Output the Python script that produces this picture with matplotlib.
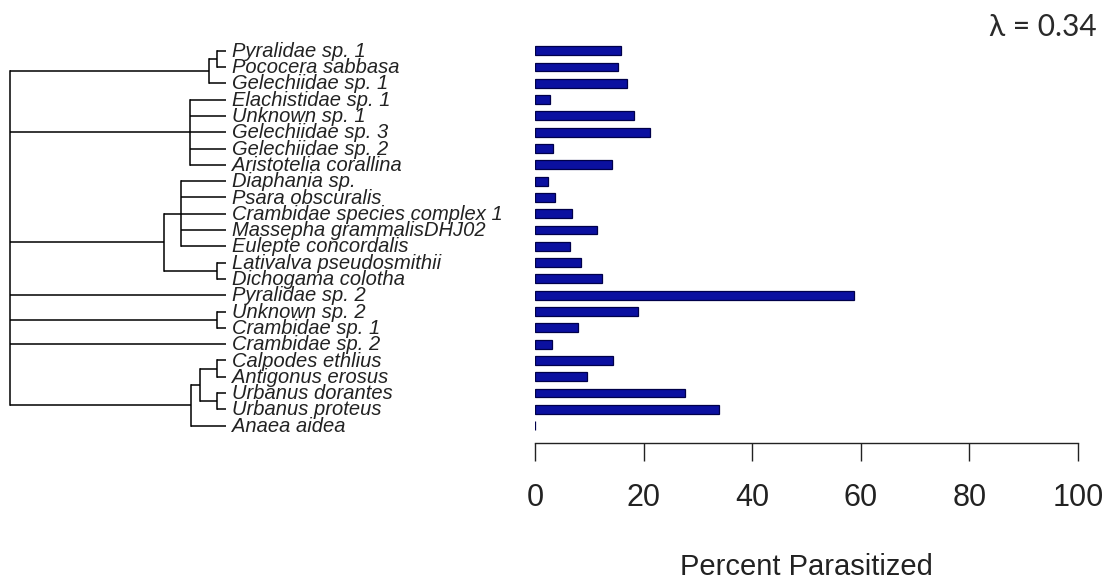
import matplotlib
matplotlib.use('Agg')
import matplotlib.pyplot as plt

# ---------------- data ----------------
tips = [
    "Pyralidae sp. 1", "Pococera sabbasa", "Gelechiidae sp. 1",
    "Elachistidae sp. 1", "Unknown sp. 1", "Gelechiidae sp. 3",
    "Gelechiidae sp. 2", "Aristotelia corallina", "Diaphania sp.",
    "Psara obscuralis", "Crambidae species complex 1",
    "Massepha grammalisDHJ02", "Eulepte concordalis",
    "Lativalva pseudosmithii", "Dichogama colotha", "Pyralidae sp. 2",
    "Unknown sp. 2", "Crambidae sp. 1", "Crambidae sp. 2",
    "Calpodes ethlius", "Antigonus erosus", "Urbanus dorantes",
    "Urbanus proteus", "Anaea aidea",
]
percent_parasitized = [
    15.8, 15.2, 16.9, 2.7, 18.3, 21.1, 3.4, 14.1, 2.4, 3.7, 6.9, 11.4,
    6.5, 8.5, 12.4, 58.7, 19.0, 7.9, 3.1, 14.4, 9.6, 27.6, 33.8, 0.0,
]
x_ticks = [0, 20, 40, 60, 80, 100]
x_label = "Percent Parasitized"
lambda_text = "\u03bb = 0.34"

# tree: (node height as fraction of root-to-tip distance, children); ints = tip index
tree = (0.0, [
    (0.923, [(0.957, [0, 1]), 2]),
    (0.833, [3, 4, 5, 6, 7]),
    (0.713, [(0.792, [8, 9, 10, 11, 12]), (0.957, [13, 14])]),
    15,
    (0.957, [16, 17]),
    18,
    (0.837, [(0.880, [(0.957, [19, 20]), (0.957, [21, 22])]), 23]),
])

# ---------------- layout ----------------
W, H = 1105, 580
fig = plt.figure(figsize=(W / 100, H / 100), dpi=100)
fig.patch.set_facecolor('white')

def px_box(l, t, r, b):
    return [l / W, 1 - b / H, (r - l) / W, (b - t) / H]

row_px = 16.3
first_tip_px = 50.7
top_px = first_tip_px - row_px
bottom_px = 443
y_bottom = (bottom_px - first_tip_px) / row_px

ax_tree = fig.add_axes(px_box(10, top_px, 226, bottom_px))
ax_bar = fig.add_axes(px_box(535, top_px, 1078, bottom_px))

for ax in (ax_tree, ax_bar):
    ax.set_ylim(y_bottom, -1)

# ---------------- tree ----------------
lw = 1.1
def draw(node, parent_x):
    if isinstance(node, int):
        ax_tree.plot([parent_x, 1.0], [node, node], color='black', lw=lw,
                     solid_capstyle='butt', clip_on=False)
        return node
    depth, children = node
    ys = [draw(c, depth) for c in children]
    y = (ys[0] + ys[-1]) / 2
    ax_tree.plot([depth, depth], [ys[0], ys[-1]], color='black', lw=lw,
                 solid_capstyle='projecting', clip_on=False)
    if parent_x is not None:
        ax_tree.plot([parent_x, depth], [y, y], color='black', lw=lw,
                     solid_capstyle='butt', clip_on=False)
    return y

draw(tree, None)
ax_tree.set_xlim(0, 1)
for i, name in enumerate(tips):
    ax_tree.annotate(name, (1.0, i), xytext=(4.3, -0.5), textcoords='offset points',
                     ha='left', va='center', fontsize=14.5, style='italic',
                     family='Liberation Sans', color='#222222',
                     annotation_clip=False)
ax_tree.axis('off')

# ---------------- bars ----------------
ax_bar.barh(range(len(tips)), percent_parasitized, height=0.55,
            color='#0b10a0', edgecolor='#00004a', linewidth=0.9)
ax_bar.set_xlim(0, 100)
for s in ('left', 'top', 'right'):
    ax_bar.spines[s].set_visible(False)
ax_bar.spines['bottom'].set_linewidth(1.0)
ax_bar.spines['bottom'].set_color('#222222')
ax_bar.set_yticks([])
ax_bar.set_xticks(x_ticks)
ax_bar.set_xticklabels([str(t) for t in x_ticks], family='Liberation Sans',
                       fontsize=22, color='#222222')
ax_bar.tick_params(axis='x', direction='out', length=13, width=1.0,
                   color='#222222', pad=15.5)
ax_bar.set_xlabel(x_label, family='Liberation Sans', fontsize=21,
                  color='#222222', va='top')
ax_bar.xaxis.set_label_coords(0.5, -(553 - bottom_px) / (bottom_px - top_px))
ax_bar.patch.set_visible(False)

fig.text(1097 / W, 1 - 27 / H, lambda_text, ha='right', va='center',
         fontsize=21.5, family=['Lato', 'Open Sans', 'DejaVu Sans'],
         color='#2a2a2a')

fig.savefig('out.png', dpi=100)
